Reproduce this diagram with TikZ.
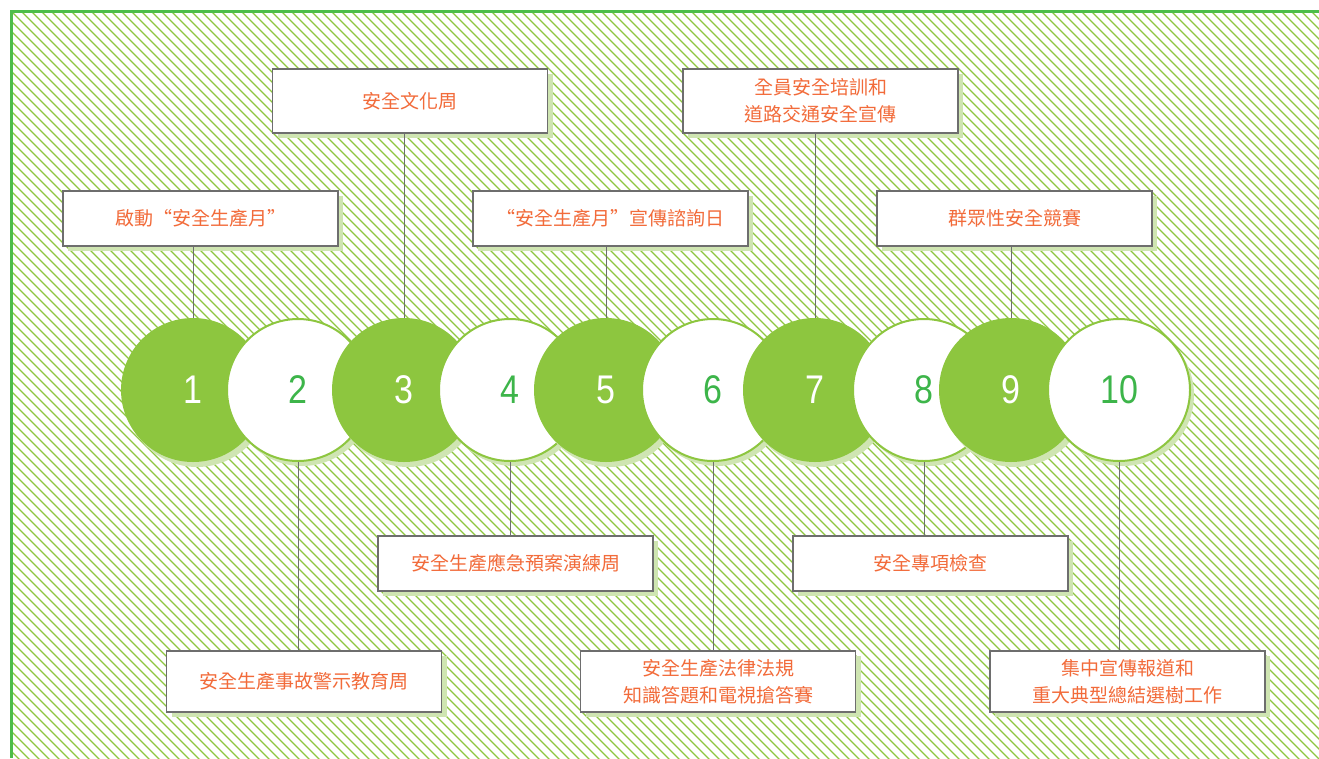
\documentclass[tikz,border=0pt]{standalone}
\usepackage{fontspec}
\setmainfont{Liberation Sans}
\newfontfamily\cjk{Noto Sans CJK TC}
\usetikzlibrary{shadows}
\definecolor{hatchc}{HTML}{8DC63F}
\definecolor{framec}{HTML}{4DBD4A}
\definecolor{cgreen}{HTML}{8DC63F}
\definecolor{shade}{HTML}{CFE5B2}
\definecolor{txt}{HTML}{F26B3A}
\definecolor{num}{HTML}{3DB54A}
\definecolor{edgec}{HTML}{6E6E6E}
\begin{document}
\begin{tikzpicture}[x=1pt,y=-1pt,
  box/.style={draw=edgec, line width=1.2pt, fill=white, minimum width=275pt, minimum height=55pt,
    inner sep=0pt, align=center, font=\cjk\fontsize{19}{27}\selectfont, text=txt,
    drop shadow={shadow xshift=5pt, shadow yshift=-5pt, fill=shade, opacity=1}},
  gball/.style={circle, fill=cgreen, minimum size=144pt, inner sep=0pt, text=white,
    font=\fontsize{40}{40}\selectfont,
    drop shadow={shadow xshift=4pt, shadow yshift=-5pt, fill=shade, opacity=1}},
  wball/.style={gball, fill=white, draw=cgreen, line width=2pt, text=num, minimum size=142pt},
  conn/.style={draw=edgec, line width=1pt}]
\useasboundingbox (0,0) rectangle (1319,758);
% hatched background
\begin{scope}
  \clip (12,12.5) rectangle (1319,758);
  \foreach \c in {-760,-750,...,1320} \draw[hatchc, line width=1.25pt] (\c,0) -- ++(800,800);
\end{scope}
\draw[framec, line width=3pt] (10,11.5) -- (1319,11.5);
\draw[framec, line width=3pt] (11.5,10) -- (11.5,758);
% boxes
\node[box, minimum height=64pt] (bA) at (410,101) {安全文化周};
\node[box, minimum height=64pt] (bB) at (820.5,101) {全員安全培訓和\\道路交通安全宣傳};
\node[box] (bC) at (200.5,218.5) {啟動“安全生產月”};
\node[box] (bD) at (610.5,218.5) {“安全生產月”宣傳諮詢日};
\node[box] (bE) at (1014.5,218.5) {群眾性安全競賽};
\node[box] (bF) at (515.5,563.5) {安全生產應急預案演練周};
\node[box] (bG) at (930.5,563.5) {安全專項檢查};
\node[box, minimum height=61pt] (bH) at (304,681.5) {安全生產事故警示教育周};
\node[box, minimum height=61pt] (bI) at (718,681.5) {安全生產法律法規\\知識答題和電視搶答賽};
\node[box, minimum height=61pt] (bJ) at (1127.5,681.5) {集中宣傳報道和\\重大典型總結選樹工作};
% circles
\node[gball] (c1) at (193,390) {\scalebox{0.85}[1]{1}};
\node[wball] (c2) at (298,390) {\scalebox{0.85}[1]{2}};
\node[gball] (c3) at (404,390) {\scalebox{0.85}[1]{3}};
\node[wball] (c4) at (510,390) {\scalebox{0.85}[1]{4}};
\node[gball] (c5) at (606,390) {\scalebox{0.85}[1]{5}};
\node[wball] (c6) at (713,390) {\scalebox{0.85}[1]{6}};
\node[gball] (c7) at (815,390) {\scalebox{0.85}[1]{7}};
\node[wball] (c8) at (924,390) {\scalebox{0.85}[1]{8}};
\node[gball] (c9) at (1011,390) {\scalebox{0.85}[1]{9}};
\node[wball] (c10) at (1119,390) {\scalebox{0.85}[1]{10}};
% connectors
\draw[conn] (c1.north) -- (c1.north |- bC.south);
\draw[conn] (c3.north) -- (c3.north |- bA.south);
\draw[conn] (c5.north) -- (c5.north |- bD.south);
\draw[conn] (c7.north) -- (c7.north |- bB.south);
\draw[conn] (c9.north) -- (c9.north |- bE.south);
\draw[conn] (c2.south) -- (c2.south |- bH.north);
\draw[conn] (c4.south) -- (c4.south |- bF.north);
\draw[conn] (c6.south) -- (c6.south |- bI.north);
\draw[conn] (c8.south) -- (c8.south |- bG.north);
\draw[conn] (c10.south) -- (c10.south |- bJ.north);
\end{tikzpicture}
\end{document}
